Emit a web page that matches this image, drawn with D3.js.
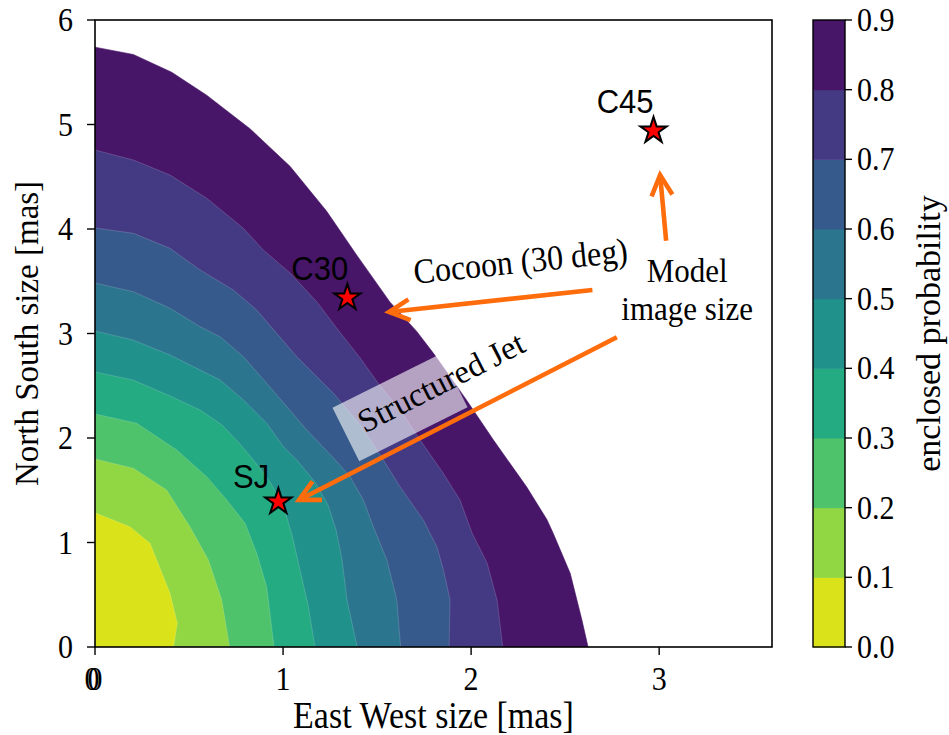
<!DOCTYPE html>
<html><head><meta charset="utf-8">
<script src="https://cdn.jsdelivr.net/npm/d3@7"></script>
<style>
body{margin:0;background:#fff}
svg text{font-family:"Liberation Serif","Times New Roman",serif;fill:#000}
</style>
</head><body><svg id="c" width="949" height="735"></svg>
<script>
// ---------- data ----------
const levels = [0, 0.1, 0.2, 0.3, 0.4, 0.5, 0.6, 0.7, 0.8, 0.9];
const xTicks = [0, 1, 2, 3];
const yTicks = [0, 1, 2, 3, 4, 5, 6];
const cbTicks = [0, 0.1, 0.2, 0.3, 0.4, 0.5, 0.6, 0.7, 0.8, 0.9];

// contour boundaries (East-West, North-South) in mas
const b10 = [[0,1.285],[0.186,1.151],[0.293,0.992],[0.399,0.514],[0.438,0.227],[0.418,0]];
const b20 = [[0,1.799],[0.204,1.710],[0.381,1.502],[0.505,1.151],[0.603,0.833],[0.674,0.450],[0.716,0]];
const b30 = [[0,2.230],[0.222,2.141],[0.435,1.885],[0.594,1.630],[0.701,1.407],[0.798,1.184],[0.860,0.897],[0.913,0.577],[0.952,0]];
const b40 = [[0,2.632],[0.202,2.555],[0.399,2.402],[0.559,2.268],[0.676,2.124],[0.771,1.943],[0.851,1.770],[0.931,1.579],[1.0,1.359],[1.048,1.072],[1.090,0.737],[1.133,0.402],[1.170,0]];
const b50 = [[0,3.024],[0.202,2.938],[0.399,2.794],[0.559,2.651],[0.665,2.555],[0.789,2.364],[0.913,2.141],[1.002,1.917],[1.073,1.789],[1.170,1.579],[1.239,1.359],[1.282,1.120],[1.314,0.833],[1.340,0.450],[1.394,0]];
const b60 = [[0,3.483],[0.204,3.400],[0.399,3.241],[0.559,3.065],[0.665,2.969],[0.789,2.778],[0.913,2.523],[1.020,2.300],[1.126,2.077],[1.268,1.809],[1.356,1.630],[1.427,1.407],[1.480,1.151],[1.552,0.833],[1.605,0.450],[1.625,0]];
const b70 = [[0,4.010],[0.204,3.959],[0.399,3.815],[0.559,3.608],[0.736,3.416],[0.860,3.225],[0.966,3.002],[1.073,2.778],[1.161,2.619],[1.268,2.428],[1.410,2.124],[1.534,1.789],[1.622,1.534],[1.746,1.215],[1.818,0.960],[1.853,0.737],[1.888,0.450],[1.883,0]];
const b80 = [[0,4.756],[0.204,4.660],[0.399,4.517],[0.594,4.294],[0.789,4.007],[0.895,3.799],[1.037,3.579],[1.179,3.304],[1.293,3.033],[1.41,2.766],[1.505,2.526],[1.622,2.268],[1.729,1.981],[1.851,1.665],[1.941,1.407],[2.005,1.091],[2.085,0.804],[2.138,0.450],[2.168,0]];
const b90 = [[0,5.74],[0.204,5.67],[0.408,5.50],[0.594,5.28],[0.824,4.96],[1.037,4.60],[1.232,4.17],[1.392,3.75],[1.569,3.30],[1.711,3.02],[1.80,2.81],[1.977,2.36],[2.119,1.98],[2.296,1.53],[2.403,1.22],[2.436,1.09],[2.527,0.705],[2.589,0.26],[2.622,0]];
const boundaries = [b10, b20, b30, b40, b50, b60, b70, b80, b90];

// model image sizes
const modelNames = ["SJ", "C30", "C45"];
const modelX = [0.975, 1.342, 2.970];
const modelY = [1.390, 3.343, 4.941];
const labelX = [0.830, 1.195, 2.819];
const labelY = [1.522, 3.512, 5.107];

// arrows [tailX, tailY, tipX, tipY]
const arrows = [
  [2.645, 3.416, 1.564, 3.206],
  [2.775, 2.964, 1.085, 1.407],
  [3.037, 3.888, 3.005, 4.517]
];

// ---------- layout ----------
const svg = d3.select("#c");
const L = 95, R = 772, T = 20, B = 647;
const x = d3.scaleLinear().domain([0, 3.6]).range([L, R]);
const y = d3.scaleLinear().domain([0, 6]).range([B, T]);
const col = i => d3.interpolateViridis(1 - (i + 0.5) / 9);
const SY = 1.1; // glyphs in the reference are slightly taller than wide

svg.append("defs").append("clipPath").attr("id", "clip")
  .append("rect").attr("x", L).attr("y", T).attr("width", R - L).attr("height", B - T);

const plot = svg.append("g").attr("clip-path", "url(#clip)");
const line = d3.line().x(d => x(d[0])).y(d => y(d[1]));

for (let k = boundaries.length - 1; k >= 0; k--) {
  const pts = [[0, 0]].concat(boundaries[k]);
  plot.append("path")
    .attr("d", line(pts) + "Z")
    .attr("fill", col(k))
    .attr("stroke", k === boundaries.length - 1 ? col(k) : "rgba(255,255,255,0.28)")
    .attr("stroke-width", 0.6);
}

// Structured Jet box + text
const boxC = [1.622, 2.292];
plot.append("rect")
  .attr("x", -60.5).attr("y", -30).attr("width", 121).attr("height", 60)
  .attr("transform", `translate(${x(boxC[0])},${y(boxC[1])}) rotate(-26.5)`)
  .attr("fill", "rgba(255,255,255,0.6)");
svg.append("text")
  .attr("transform", `translate(${x(1.867)},${y(2.440)}) rotate(-27)`)
  .attr("text-anchor", "middle").style("font-size", "33px").text("Structured Jet");

svg.append("text")
  .attr("transform", `translate(${x(2.269)},${y(3.580)}) rotate(-5.8) scale(1,${SY})`)
  .attr("text-anchor", "middle").style("font-size", "32px").text("Cocoon (30 deg)");
svg.append("text").attr("transform", `translate(${x(3.149)},${y(3.496)}) scale(1,${SY})`)
  .attr("text-anchor", "middle").style("font-size", "31px").text("Model");
svg.append("text").attr("transform", `translate(${x(3.149)},${y(3.129)}) scale(1,${SY})`)
  .attr("text-anchor", "middle").style("font-size", "31px").text("image size");

// arrows
const orange = "#ff6c0c";
arrows.forEach(a => {
  const tx = x(a[0]), ty = y(a[1]), hx = x(a[2]), hy = y(a[3]);
  const ang = Math.atan2(ty - hy, tx - hx);
  const hl = 23, ha = 0.47;
  const p1 = [hx + hl * Math.cos(ang + ha), hy + hl * Math.sin(ang + ha)];
  const p2 = [hx + hl * Math.cos(ang - ha), hy + hl * Math.sin(ang - ha)];
  svg.append("path").attr("d", `M${tx},${ty}L${hx},${hy}`)
    .attr("stroke", orange).attr("stroke-width", 4.6).attr("fill", "none");
  svg.append("path").attr("d", `M${p1[0]},${p1[1]}L${hx},${hy}L${p2[0]},${p2[1]}`)
    .attr("stroke", orange).attr("stroke-width", 4.6).attr("fill", "none")
    .attr("stroke-linejoin", "miter");
});

// stars + labels
const star = d3.symbol().type(d3.symbolStar).size(215);
modelNames.forEach((n, i) => {
  svg.append("path").attr("d", star())
    .attr("transform", `translate(${x(modelX[i])},${y(modelY[i])})`)
    .attr("fill", "#ff0000").attr("stroke", "#000").attr("stroke-width", 2);
  svg.append("text").attr("transform", `translate(${x(labelX[i])},${y(labelY[i])}) scale(1,${SY})`)
    .attr("text-anchor", "middle")
    .style("font-family", "'Liberation Sans', Arial, sans-serif")
    .style("font-size", "31px").text(n);
});

// frame
svg.append("rect").attr("x", L).attr("y", T).attr("width", R - L).attr("height", B - T)
  .attr("fill", "none").attr("stroke", "#000").attr("stroke-width", 1.6);

// x axis
const gx = svg.append("g");
xTicks.forEach(t => {
  gx.append("line").attr("x1", x(t)).attr("x2", x(t)).attr("y1", B).attr("y2", B + 8)
    .attr("stroke", "#000").attr("stroke-width", 1.4);
  gx.append("text").attr("transform", `translate(${x(t)},690) scale(1,${SY})`).attr("text-anchor", "middle")
    .style("font-size", "30px").text(t);
});
gx.append("text").attr("transform", `translate(${x(0) - 3},690) scale(1,${SY})`).attr("text-anchor", "middle")
  .style("font-size", "30px").text("0");
svg.append("text").attr("transform", `translate(${(L + R) / 2},728) scale(1,${SY})`).attr("text-anchor", "middle")
  .style("font-size", "34px").text("East West size [mas]");

// y axis
const gy = svg.append("g");
yTicks.forEach(t => {
  gy.append("line").attr("x1", L - 8).attr("x2", L).attr("y1", y(t)).attr("y2", y(t))
    .attr("stroke", "#000").attr("stroke-width", 1.4);
  gy.append("text").attr("transform", `translate(73,${y(t) + 11}) scale(1,${SY})`)
    .attr("text-anchor", "end").style("font-size", "30px").text(t);
});
svg.append("text").attr("transform", `translate(38,${(T + B) / 2}) rotate(-90)`)
  .attr("text-anchor", "middle").style("font-size", "33px").text("North South size [mas]");

// colorbar
const cbL = 813, cbR = 845;
const cy = d3.scaleLinear().domain([0, 0.9]).range([B, T]);
for (let i = 0; i < levels.length - 1; i++) {
  svg.append("rect").attr("x", cbL).attr("width", cbR - cbL)
    .attr("y", cy(levels[i + 1])).attr("height", cy(levels[i]) - cy(levels[i + 1]) + 0.5)
    .attr("fill", col(i));
}
svg.append("rect").attr("x", cbL).attr("y", T).attr("width", cbR - cbL).attr("height", B - T)
  .attr("fill", "none").attr("stroke", "#000").attr("stroke-width", 1.4);
cbTicks.forEach(t => {
  svg.append("line").attr("x1", cbR).attr("x2", cbR + 7).attr("y1", cy(t)).attr("y2", cy(t))
    .attr("stroke", "#000").attr("stroke-width", 1.4);
  svg.append("text").attr("transform", `translate(857,${cy(t) + 11}) scale(1,${SY})`)
    .style("font-size", "30px").text(t.toFixed(1));
});
svg.append("text").attr("transform", `translate(940,${(T + B) / 2}) rotate(-90)`)
  .attr("text-anchor", "middle").style("font-size", "34px").text("enclosed probability");
</script>
</body></html>
